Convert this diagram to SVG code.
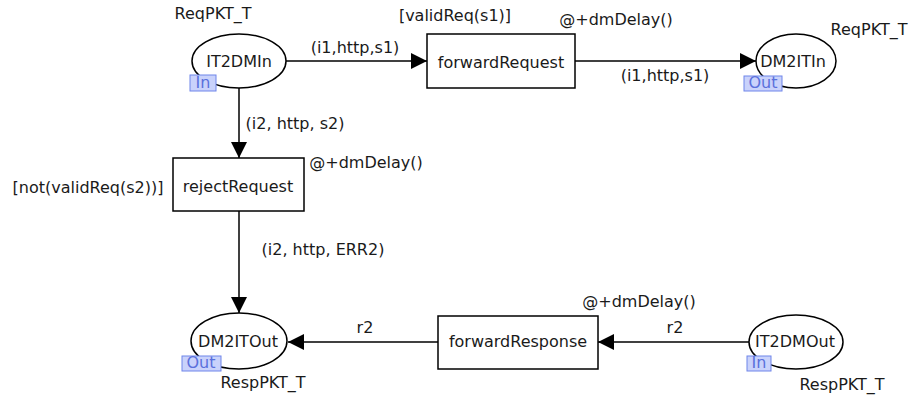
<svg xmlns="http://www.w3.org/2000/svg" width="911" height="396" viewBox="0 0 911 396">
  <defs>
    <marker id="arrow" viewBox="0 0 16 16" refX="16" refY="8" markerWidth="16" markerHeight="16" markerUnits="userSpaceOnUse" orient="auto">
      <path d="M0,0 L16,8 L0,16 Z" fill="#000"/>
    </marker>
    <style>
      text { font-family: "DejaVu Sans", Verdana, sans-serif; font-size: 16px; fill: #1a1a1a; }
      .place { fill: #fff; stroke: #000; stroke-width: 1.5; }
      .trans { fill: #fff; stroke: #000; stroke-width: 1.5; }
      .arc { fill: none; stroke: #000; stroke-width: 1.5; marker-end: url(#arrow); }
      .tag { fill: #c9d2fb; stroke: #6f85ea; stroke-width: 1; }
      .tagtext { fill: #5a70dc; }
      .mid { text-anchor: middle; }
    </style>
  </defs>

  <!-- arcs -->
  <g id="connectors">
    <path class="arc" d="M286,61 L427,61"/>
    <path class="arc" d="M575,61 L756,61"/>
    <path class="arc" d="M239,88 L239,158"/>
    <path class="arc" d="M239,211 L239,313"/>
    <path class="arc" d="M438,342 L288,342"/>
    <path class="arc" d="M749,342 L598,342"/>
    <text x="355" y="53" class="mid">(i1,http,s1)</text>
    <text x="665" y="81" class="mid">(i1,http,s1)</text>
    <text x="295" y="129" class="mid">(i2, http, s2)</text>
    <text x="323" y="255" class="mid">(i2, http, ERR2)</text>
    <text x="365" y="333" class="mid">r2</text>
    <text x="675" y="333" class="mid">r2</text>
  </g>

  <!-- places -->
  <g id="IT2DMIn">
    <ellipse class="place" cx="239" cy="61" rx="47" ry="27"/>
    <text x="239" y="67" class="mid">IT2DMIn</text>
    <rect class="tag" x="190" y="75" width="26" height="16"/>
    <text x="203" y="88" class="mid tagtext">In</text>
    <text x="213" y="19" class="mid">ReqPKT_T</text>
  </g>

  <g id="DM2ITIn">
    <ellipse class="place" cx="796" cy="61" rx="40" ry="27"/>
    <text x="793" y="67" class="mid">DM2ITIn</text>
    <rect class="tag" x="744" y="76" width="38" height="15"/>
    <text x="763" y="88" class="mid tagtext">Out</text>
    <text x="869" y="35" class="mid">ReqPKT_T</text>
  </g>

  <g id="DM2ITOut">
    <ellipse class="place" cx="239" cy="341" rx="48" ry="28"/>
    <text x="238" y="347" class="mid">DM2ITOut</text>
    <rect class="tag" x="182" y="356" width="39" height="15"/>
    <text x="201" y="368" class="mid tagtext">Out</text>
    <text x="263" y="388" class="mid">RespPKT_T</text>
  </g>

  <g id="IT2DMOut">
    <ellipse class="place" cx="796" cy="342" rx="47" ry="27"/>
    <text x="795" y="347" class="mid">IT2DMOut</text>
    <rect class="tag" x="747" y="356" width="24" height="15"/>
    <text x="759" y="368" class="mid tagtext">In</text>
    <text x="842" y="390" class="mid">RespPKT_T</text>
  </g>

  <!-- transitions -->
  <g id="forwardRequest">
    <rect class="trans" x="427" y="34" width="148" height="54"/>
    <text x="501" y="68" class="mid">forwardRequest</text>
    <text x="455" y="21" class="mid">[validReq(s1)]</text>
    <text x="616" y="25" class="mid">@+dmDelay()</text>
  </g>

  <g id="rejectRequest">
    <rect class="trans" x="173" y="158" width="131" height="53"/>
    <text x="238" y="192" class="mid">rejectRequest</text>
    <text x="88" y="193" class="mid">[not(validReq(s2))]</text>
    <text x="366" y="168" class="mid">@+dmDelay()</text>
  </g>

  <g id="forwardResponse">
    <rect class="trans" x="438" y="316" width="160" height="53"/>
    <text x="518" y="347" class="mid">forwardResponse</text>
    <text x="639" y="307" class="mid">@+dmDelay()</text>
  </g>
</svg>
